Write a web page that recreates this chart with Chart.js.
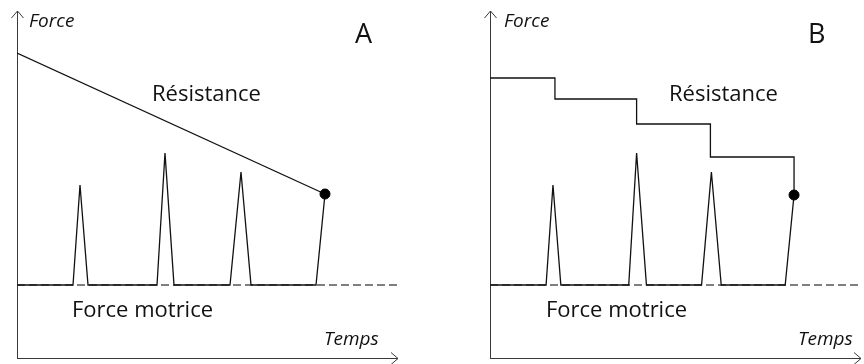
<!DOCTYPE html>
<html>
<head>
<meta charset="utf-8">
<script src="https://cdn.jsdelivr.net/npm/chart.js@4/dist/chart.umd.min.js"></script>
<style>
html,body{margin:0;padding:0;background:#fff;}
#wrap{position:relative;width:864px;height:364px;overflow:hidden;}
canvas{position:absolute;top:0;}
#cA{left:0;} #cB{left:432px;}
</style>
</head>
<body>
<div id="wrap">
<canvas id="cA" width="432" height="364"></canvas>
<canvas id="cB" width="432" height="364"></canvas>
</div>
<script>
// ---- Data (arbitrary units: time on x, force on y) ----
const baselineForce = 7.3;

// Panel A: linearly decreasing resistance
const resistanceA_t = [0, 30.8];
const resistanceA_f = [30.5, 16.4];
const motriceA_t = [0, 5.6, 6.3, 7.1, 14.0, 14.8, 15.7, 21.3, 22.4, 23.4, 29.9, 30.8];
const motriceA_f = [7.3, 7.3, 17.3, 7.3, 7.3, 20.5, 7.3, 7.3, 18.6, 7.3, 7.3, 16.4];
const endPointA = [30.8, 16.4];

// Panel B: stepwise decreasing resistance
const resistanceB_t = [0, 6.6, 6.6, 14.9, 14.9, 22.4, 22.4, 30.9, 30.9];
const resistanceB_f = [28.0, 28.0, 25.9, 25.9, 23.4, 23.4, 20.1, 20.1, 16.3];
const motriceB_t = [0, 5.7, 6.4, 7.2, 14.1, 14.9, 15.9, 21.5, 22.5, 23.5, 30.0, 30.9];
const motriceB_f = [7.3, 7.3, 17.3, 7.3, 7.3, 20.5, 7.3, 7.3, 18.6, 7.3, 7.3, 16.3];
const endPointB = [30.9, 16.3];

const labelResistance = "Résistance";
const labelMotrice = "Force motrice";
const labelForce = "Force";
const labelTemps = "Temps";

function pts(t, f){ return t.map((v,i)=>({x:v, y:f[i]})); }

const axisPlugin = {
  id: 'axesArrows',
  beforeDatasetsDraw(chart, args, opts){
    const ctx = chart.ctx;
    const xs = chart.scales.x, ys = chart.scales.y;
    const x0 = xs.getPixelForValue(xs.min), y0 = ys.getPixelForValue(ys.min);
    const yTop = ys.getPixelForValue(ys.max);
    const xEnd = xs.getPixelForValue(xs.max) + opts.xOver;
    ctx.save();
    ctx.strokeStyle = '#3a3a3a';
    ctx.lineWidth = 1;
    ctx.beginPath();
    ctx.moveTo(x0+0.5, y0+0.5); ctx.lineTo(x0+0.5, yTop);
    ctx.moveTo(x0-5.5, yTop+7); ctx.lineTo(x0+0.5, yTop); ctx.lineTo(x0+6.5, yTop+7);
    ctx.moveTo(x0, y0+0.5); ctx.lineTo(xEnd, y0+0.5);
    ctx.moveTo(xEnd-7, y0-5.5); ctx.lineTo(xEnd, y0+0.5); ctx.lineTo(xEnd-7, y0+6.5);
    ctx.stroke();
    ctx.restore();
  },
  afterDraw(chart, args, opts){
    const ctx = chart.ctx;
    ctx.save();
    ctx.fillStyle = '#111';
    ctx.textBaseline = 'alphabetic';
    ctx.textAlign = 'left';
    for (const t of opts.texts){
      ctx.font = t.font;
      ctx.fillText(t.text, t.x, t.y);
    }
    ctx.restore();
  }
};

function makeChart(id, resT, resF, motT, motF, endPt, xMax, pad, xOver, letter, pos){
  const f = "'Open Sans', Lato, sans-serif";
  new Chart(document.getElementById(id), {
    type: 'line',
    data: {
      datasets: [
        { data: [{x:0,y:baselineForce},{x:xMax,y:baselineForce}], borderColor:'#555', borderWidth:1.3, borderDash:[8,4], pointRadius:0, order:3 },
        { data: pts(motT, motF), borderColor:'#111', borderWidth:1.3, pointRadius:0, order:2 },
        { data: pts(resT, resF), borderColor:'#111', borderWidth:1.3, pointRadius:0, order:1 },
        { data: [{x:endPt[0], y:endPt[1]}], showLine:false, pointRadius:5, pointBackgroundColor:'#000', pointBorderColor:'#000', order:0 }
      ]
    },
    options: {
      responsive:false, animation:false, devicePixelRatio:1,
      layout:{ padding: pad },
      scales: {
        x: { type:'linear', min:0, max:xMax, display:false },
        y: { type:'linear', min:0, max:34.7, display:false }
      },
      plugins: {
        legend:{display:false}, tooltip:{enabled:false},
        axesArrows: {
          xOver: xOver,
          texts: [
            {text:labelForce, x:pos.force, y:27, font:"italic 19px "+f},
            {text:labelTemps, x:pos.temps, y:345, font:"italic 19px "+f},
            {text:letter, x:pos.letter, y:43, font:"27px "+f},
            {text:labelResistance, x:pos.res, y:101, font:"22px "+f},
            {text:labelMotrice, x:pos.mot, y:317, font:"22px "+f}
          ]
        }
      }
    },
    plugins:[axisPlugin]
  });
}

makeChart('cA', resistanceA_t, resistanceA_f, motriceA_t, motriceA_f, endPointA, 38,
  {left:17,right:35,top:11,bottom:6}, 1, 'A', {force:29, letter:355, res:152, mot:72, temps:324});
makeChart('cB', resistanceB_t, resistanceB_f, motriceB_t, motriceB_f, endPointB, 37.4,
  {left:58,right:0,top:11,bottom:6}, 3, 'B', {force:72, letter:376, res:237, mot:114, temps:366});
</script>
</body>
</html>
